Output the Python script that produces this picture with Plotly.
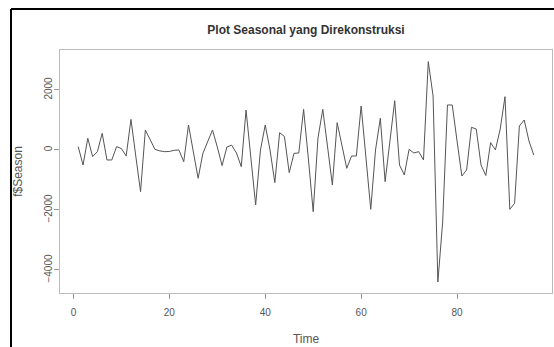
import plotly.graph_objects as go

time = list(range(1, 97))
season = [110, -500, 390, -220, -55, 555, -333, -333, 111, 50,
          -200, 1020, -200, -1390, 667, 333, 22, -30, -55, -50,
          -10, 0, -390, 833, -100, -944, -111, 300, 667, 100,
          -520, 100, 160, -100, -556, 1333, -200, -1833, 0, 833,
          0, -1089, 578, 450, -756, -111, -100, 1356, -300, -2056,
          400, 1356, 100, -1167, 911, 150, -611, -200, -200, 1467,
          -200, -1978, 0, 1056, -1056, 300, 1644, -500, -833, 22,
          -100, -55, -333, 2944, 1800, -4400, -2400, 1500, 1500, 300,
          -867, -667, 756, 700, -500, -850, 244, 0, 700, 1778,
          -1978, -1778, 800, 1000, 300, -167]
xticks = [0, 20, 40, 60, 80]
yticks = [-4000, -2000, 0, 2000]

fig = go.Figure()
fig.add_trace(go.Scatter(x=time, y=season, mode="lines",
                         line=dict(color="#555555", width=1)))

font = dict(family="Liberation Sans, Arial, sans-serif", size=10, color="#555555")
fig.update_layout(
    width=554, height=347,
    margin=dict(l=60, r=2, t=50, b=54),
    paper_bgcolor="white", plot_bgcolor="white",
    showlegend=False,
    font=font,
    title=dict(text="<b>Plot Seasonal yang Direkonstruksi</b>",
               x=(306) / 554, xanchor="center", y=1 - 30 / 347, yanchor="middle",
               font=dict(family="Liberation Sans, Arial, sans-serif", size=12, color="#333333")),
    xaxis=dict(range=[-2.8, 99.8], tickvals=xticks, ticks="outside", ticklen=5,
               tickcolor="#999999", showgrid=False, zeroline=False,
               ticklabelstandoff=5,
               showline=True, mirror=True, linecolor="#bbbbbb", linewidth=1,
               title=dict(text="Time", standoff=17)),
    yaxis=dict(range=[-4767, 3333], tickvals=yticks, ticks="outside", ticklen=5,
               tickcolor="#999999", showgrid=False, zeroline=False, tickangle=-90,
               ticklabelstandoff=-2,
               showline=True, mirror=True, linecolor="#bbbbbb", linewidth=1,
               title=dict(text="f$Season", standoff=17)),
    shapes=[
        dict(type="line", xref="paper", yref="paper",
             x0=(11 - 60) / 492, x1=1.05, y0=(293 - 9) / 243, y1=(293 - 9) / 243,
             line=dict(color="black", width=2)),
        dict(type="line", xref="paper", yref="paper",
             x0=(11 - 60) / 492, x1=(11 - 60) / 492, y0=-0.3, y1=(293 - 9) / 243,
             line=dict(color="black", width=2)),
    ],
)
fig.write_html("out.html", config={"displayModeBar": False},
               post_script="document.body.style.margin='0px';")
